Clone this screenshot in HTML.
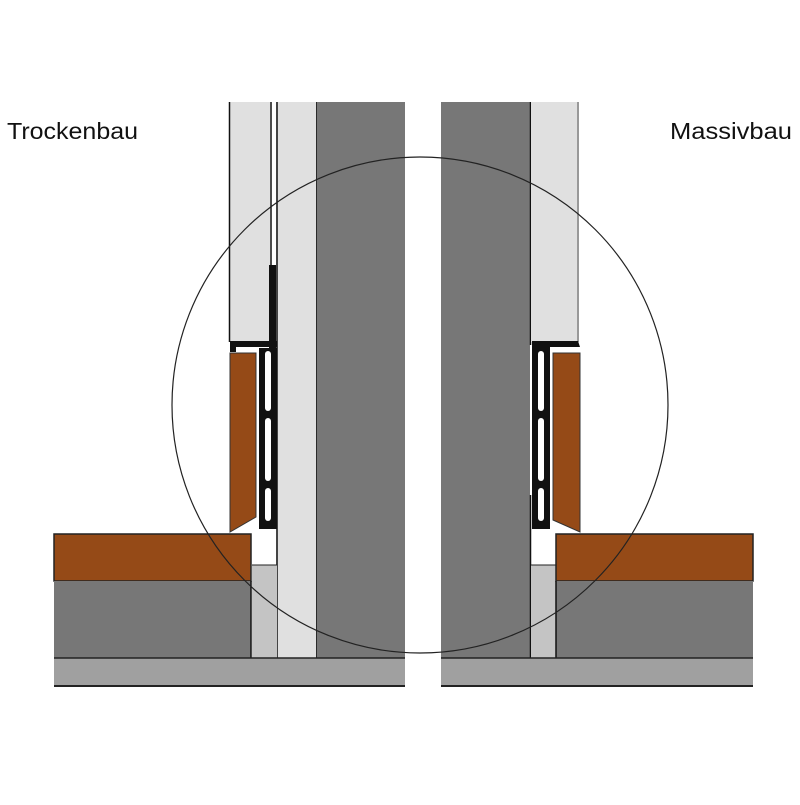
<!DOCTYPE html>
<html><head><meta charset="utf-8"><style>html,body{margin:0;padding:0;background:#fff}</style></head>
<body>
<svg width="800" height="800" viewBox="0 0 800 800" xmlns="http://www.w3.org/2000/svg">
<rect width="800" height="800" fill="#fff"/>
<g font-family="Liberation Sans, sans-serif" font-size="23" fill="#111">
<text x="7" y="139" textLength="131" lengthAdjust="spacingAndGlyphs">Trockenbau</text>
<text x="670" y="139" textLength="122" lengthAdjust="spacingAndGlyphs">Massivbau</text>
</g>
<!-- LEFT -->
<rect x="54" y="658" width="351" height="28" fill="#a0a0a0"/>
<line x1="54" y1="686" x2="405" y2="686" stroke="#222" stroke-width="2"/>
<rect x="316" y="102" width="89" height="556" fill="#777"/>
<line x1="316" y1="102" x2="316" y2="658" stroke="#111" stroke-width="1.5"/>
<rect x="276" y="102" width="40" height="556" fill="#e0e0e0"/>
<line x1="277" y1="102" x2="277" y2="658" stroke="#111" stroke-width="1.5"/>
<rect x="229" y="102" width="41" height="240" fill="#e0e0e0"/>
<line x1="229.5" y1="102" x2="229.5" y2="342" stroke="#111" stroke-width="1.5"/>
<line x1="271" y1="102" x2="271" y2="268" stroke="#111" stroke-width="1.5"/>
<rect x="269" y="265" width="7" height="85" fill="#111"/>
<path d="M230 341 L277 341 L277 347 L236 347 L236 352 L230 352 Z" fill="#111"/>
<rect x="259" y="348" width="18" height="181" fill="#111"/>
<rect x="265" y="351" width="6" height="60" rx="3" fill="#fff"/>
<rect x="265" y="418" width="6" height="63" rx="3" fill="#fff"/>
<rect x="265" y="488" width="6" height="33" rx="3" fill="#fff"/>
<path d="M230 353 L256 353 L256 517 L230 532 Z" fill="#954a17" stroke="#333" stroke-width="1"/>
<rect x="252" y="565" width="25" height="93" fill="#c4c4c4"/>
<line x1="252" y1="565" x2="277" y2="565" stroke="#222" stroke-width="1"/>
<rect x="54" y="534" width="197" height="47" fill="#954a17" stroke="#222" stroke-width="1.5"/>
<rect x="54" y="581" width="197" height="77" fill="#777"/>
<line x1="251" y1="581" x2="251" y2="658" stroke="#111" stroke-width="1.5"/>
<line x1="54" y1="658" x2="405" y2="658" stroke="#222" stroke-width="1.5"/>
<!-- RIGHT -->
<rect x="441" y="658" width="312" height="28" fill="#a0a0a0"/>
<line x1="441" y1="686" x2="753" y2="686" stroke="#222" stroke-width="2"/>
<rect x="441" y="102" width="89" height="556" fill="#777"/>
<line x1="530.5" y1="102" x2="530.5" y2="345" stroke="#111" stroke-width="1.5"/>
<line x1="530.5" y1="495" x2="530.5" y2="658" stroke="#111" stroke-width="1.5"/>
<rect x="531" y="102" width="47" height="240" fill="#e0e0e0"/>
<line x1="578" y1="102" x2="578" y2="342" stroke="#999" stroke-width="2"/>
<path d="M532 341 L578 341 L580 347 L550 347 L550 352 L532 352 Z" fill="#111"/>
<rect x="532" y="348" width="18" height="181" fill="#111"/>
<rect x="538" y="351" width="6" height="60" rx="3" fill="#fff"/>
<rect x="538" y="418" width="6" height="63" rx="3" fill="#fff"/>
<rect x="538" y="488" width="6" height="33" rx="3" fill="#fff"/>
<path d="M553 353 L580 353 L580 532 L553 520 Z" fill="#954a17" stroke="#333" stroke-width="1"/>
<rect x="531" y="565" width="25" height="93" fill="#c4c4c4"/>
<line x1="531" y1="565" x2="556" y2="565" stroke="#222" stroke-width="1"/>
<rect x="556" y="534" width="197" height="47" fill="#954a17" stroke="#222" stroke-width="1.5"/>
<rect x="556" y="581" width="197" height="77" fill="#777"/>
<line x1="556" y1="581" x2="556" y2="658" stroke="#111" stroke-width="1.5"/>
<line x1="441" y1="658" x2="753" y2="658" stroke="#222" stroke-width="1.5"/>
<circle cx="420" cy="405" r="248" fill="none" stroke="#222" stroke-width="1.2"/>
</svg>
</body></html>
